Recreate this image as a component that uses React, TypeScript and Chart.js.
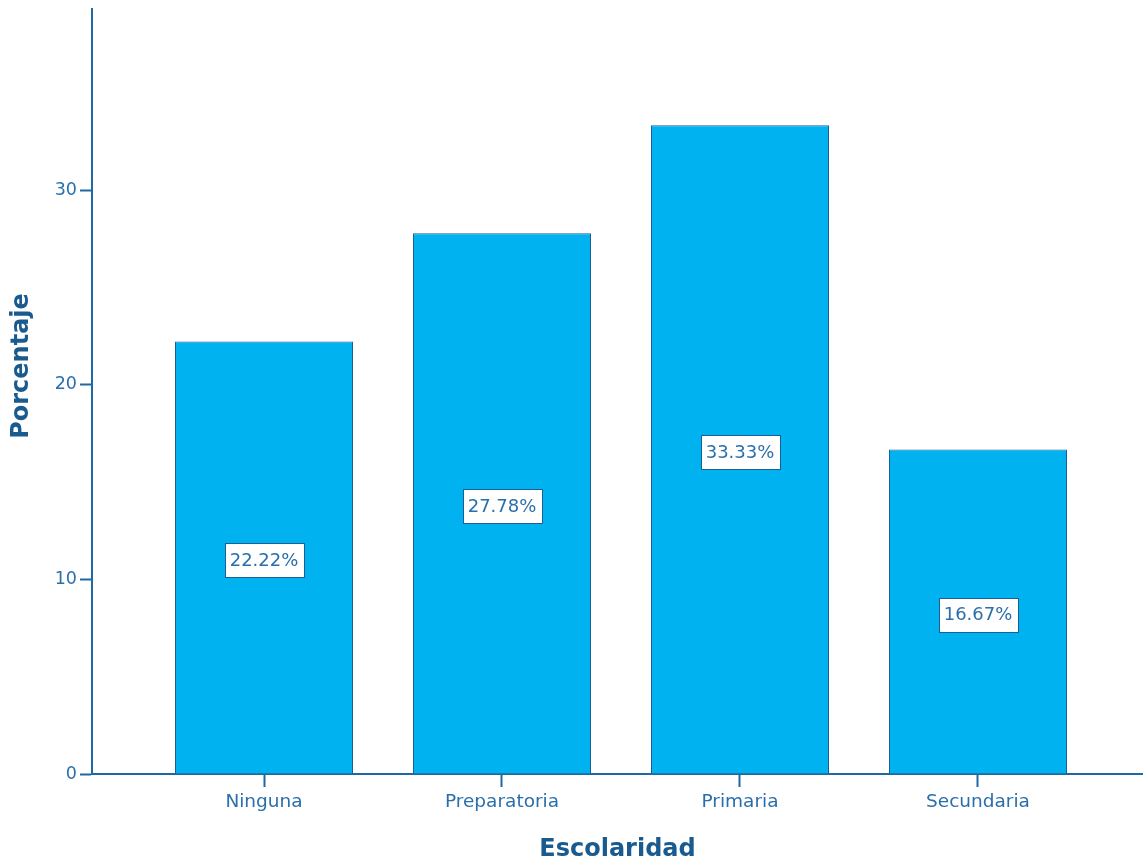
import React, { useEffect, useRef } from "react";
import { Chart, registerables } from "chart.js";

Chart.register(...registerables);

const categories = ["Ninguna", "Preparatoria", "Primaria", "Secundaria"];
const percentages = [22.22, 27.78, 33.33, 16.67];
const yTicks = [0, 10, 20, 30];

const AXIS_COLOR = "#1f68a3";
const TICK_TEXT = "#2a6fab";
const TITLE_COLOR = "#1a5b8f";
const BAR_FILL = "#00b2ef";
const BAR_BORDER = "#1a5f96";

const labelPlugin = {
  id: "valueLabels",
  afterDatasetsDraw(chart: any) {
    const ctx = chart.ctx;
    const meta = chart.getDatasetMeta(0);
    ctx.save();
    ctx.font = "18px 'DejaVu Sans'";
    ctx.textAlign = "center";
    ctx.textBaseline = "middle";
    meta.data.forEach((bar: any, i: number) => {
      const text = percentages[i].toFixed(2) + "%";
      const cx = bar.x;
      const cy = (bar.y + bar.base) / 2 + 3;
      const w = ctx.measureText(text).width + 10;
      const h = 34;
      const lx = Math.round(cx - w / 2) + 0.5;
      const ly = Math.round(cy - h / 2) + 0.5;
      ctx.fillStyle = "#ffffff";
      ctx.fillRect(lx, ly, Math.round(w), h);
      ctx.strokeStyle = BAR_BORDER;
      ctx.lineWidth = 1;
      ctx.strokeRect(lx, ly, Math.round(w), h);
      ctx.fillStyle = TICK_TEXT;
      ctx.fillText(text, cx, cy + 1);
    });
    // y-axis title
    ctx.save();
    ctx.translate(22, 366);
    ctx.rotate(-Math.PI / 2);
    ctx.font = "bold 24px 'DejaVu Sans'";
    ctx.fillStyle = TITLE_COLOR;
    ctx.textAlign = "center";
    ctx.textBaseline = "middle";
    ctx.fillText("Porcentaje", 0, 0);
    ctx.restore();
    ctx.restore();
  },
};

export default function App() {
  const ref = useRef<HTMLCanvasElement | null>(null);

  useEffect(() => {
    if (!ref.current) return;
    const chart = new Chart(ref.current, {
      type: "bar",
      data: {
        datasets: [
          {
            data: percentages.map((v, i) => ({ x: i + 1, y: v })),
            backgroundColor: BAR_FILL,
            borderColor: BAR_BORDER,
            borderWidth: 1,
            borderSkipped: "start",
            barPercentage: 0.748,
            categoryPercentage: 1,
          },
        ],
      },
      options: {
        animation: false,
        responsive: false,
        maintainAspectRatio: false,
        layout: { padding: { top: 9, left: 0, right: 0, bottom: 0 } },
        plugins: {
          legend: { display: false },
          tooltip: { enabled: false },
        },
        scales: {
          x: {
            type: "linear",
            offset: false,
            min: 0.2773,
            max: 4.6933,
            afterFit(scale: any) {
              scale.height = 90;
              scale.paddingLeft = 0;
              scale.paddingRight = 0;
            },
            afterBuildTicks(scale: any) {
              scale.ticks = categories.map((_, i) => ({ value: i + 1 }));
            },
            ticks: {
              stepSize: 1,
              includeBounds: false,
              autoSkip: false,
              maxRotation: 0,
              padding: 4,
              color: TICK_TEXT,
              font: { family: "'DejaVu Sans'", size: 18.5 },
              callback: (v: any) => categories[Math.round(Number(v)) - 1] ?? "",
            },
            grid: {
              offset: false,
              drawOnChartArea: false,
              drawTicks: true,
              tickLength: 13,
              tickColor: AXIS_COLOR,
              tickWidth: 2,
            },
            border: { display: true, color: AXIS_COLOR, width: 2 },
            title: {
              display: true,
              text: "Escolaridad",
              color: TITLE_COLOR,
              font: { family: "'DejaVu Sans'", size: 24, weight: "bold" },
              padding: { top: 0, bottom: 0 },
            },
          },
          y: {
            min: 0,
            max: 39.3,
            afterFit(scale: any) {
              scale.width = 92;
              scale.paddingTop = 0;
              scale.paddingBottom = 0;
            },
            afterBuildTicks(scale: any) {
              scale.ticks = yTicks.map((v) => ({ value: v }));
            },
            ticks: {
              stepSize: 10,
              includeBounds: false,
              padding: 3,
              color: TICK_TEXT,
              font: { family: "'DejaVu Sans'", size: 17.5 },
            },
            grid: {
              drawOnChartArea: false,
              drawTicks: true,
              tickLength: 12,
              tickColor: AXIS_COLOR,
              tickWidth: 2,
            },
            border: { display: true, color: AXIS_COLOR, width: 2 },
            title: { display: false },
          },
        },
      },
      plugins: [labelPlugin],
    });
    return () => chart.destroy();
  }, []);

  return (
    <div style={{ position: "absolute", left: 0, top: 0, width: 1143, height: 864, background: "#ffffff" }}>
      <canvas ref={ref} width={1143} height={864} style={{ display: "block", width: 1143, height: 864 }} />
    </div>
  );
}
